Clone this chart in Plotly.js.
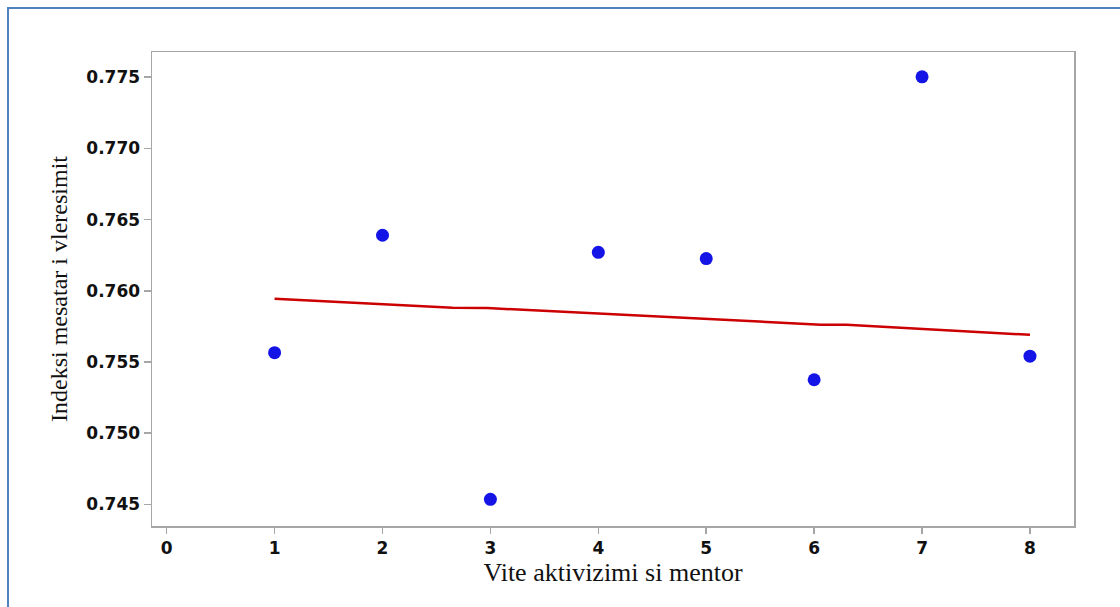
<!DOCTYPE html>
<html>
<head>
<meta charset="utf-8">
<script src="https://cdn.plot.ly/plotly-3.0.1.min.js"></script>
<style>
  html, body { margin: 0; padding: 0; background: #ffffff; }
  #chart { width: 1120px; height: 607px; position: absolute; left: 0; top: 0; }
  #frame { position: absolute; left: 7px; top: 7px; width: 1130px; height: 620px;
           border-left: 2px solid #4f81bd; border-top: 2px solid #4f81bd; pointer-events: none; }
</style>
</head>
<body>
<div id="chart"></div>
<div id="frame"></div>
<script>
// Observed points
const years = [1, 2, 3, 4, 5, 6, 7, 8];
const indexValues = [0.75565, 0.76390, 0.74535, 0.76270, 0.76226, 0.75375, 0.77503, 0.75541];

// Red fitted line
const fitX = [1, 2.65, 2.97, 6.06, 6.3, 8];
const fitY = [0.75944, 0.75881, 0.75879, 0.75762, 0.75761, 0.75691];

// Tick labels
const xTicks = [0, 1, 2, 3, 4, 5, 6, 7, 8];
const yTicks = [0.745, 0.750, 0.755, 0.760, 0.765, 0.770, 0.775];

const xTitle = 'Vite aktivizimi si mentor';
const yTitle = 'Indeksi mesatar i vleresimit';

const traces = [
  {
    x: fitX, y: fitY, type: 'scatter', mode: 'lines',
    line: { color: '#cc0000', width: 2.5 },
    hoverinfo: 'skip', showlegend: false
  },
  {
    x: years, y: indexValues, type: 'scatter', mode: 'markers',
    marker: { color: '#1414e6', size: 13, line: { width: 0 } },
    showlegend: false
  }
];

const tickFont = { family: 'DejaVu Sans', size: 17, color: '#111111', weight: 'bold' };

const layout = {
  width: 1120, height: 607,
  margin: { l: 152, r: 46, t: 52, b: 81 },
  paper_bgcolor: '#ffffff', plot_bgcolor: '#ffffff',
  showlegend: false,
  xaxis: {
    range: [-0.136, 8.408],
    tickmode: 'array', tickvals: xTicks, ticktext: xTicks.map(String),
    showgrid: false, zeroline: false,
    showline: true, mirror: true, linecolor: '#a6a6a6', linewidth: 1.5,
    ticks: 'outside', ticklen: 6, tickwidth: 1.5, tickcolor: '#a6a6a6',
    tickfont: tickFont,
    title: { text: xTitle, font: { family: 'Liberation Serif', size: 26, color: '#111111' }, standoff: 5 }
  },
  yaxis: {
    range: [0.74348, 0.77677],
    tickmode: 'array', tickvals: yTicks, ticktext: yTicks.map(v => v.toFixed(3)),
    showgrid: false, zeroline: false,
    showline: true, mirror: true, linecolor: '#a6a6a6', linewidth: 1.5,
    ticks: 'outside', ticklen: 7, tickwidth: 1.5, tickcolor: '#a6a6a6',
    tickfont: tickFont,
    title: { text: yTitle, font: { family: 'Liberation Serif', size: 24, color: '#111111' }, standoff: 12 }
  }
};

Plotly.newPlot('chart', traces, layout, { displayModeBar: false, staticPlot: true });
</script>
</body>
</html>
